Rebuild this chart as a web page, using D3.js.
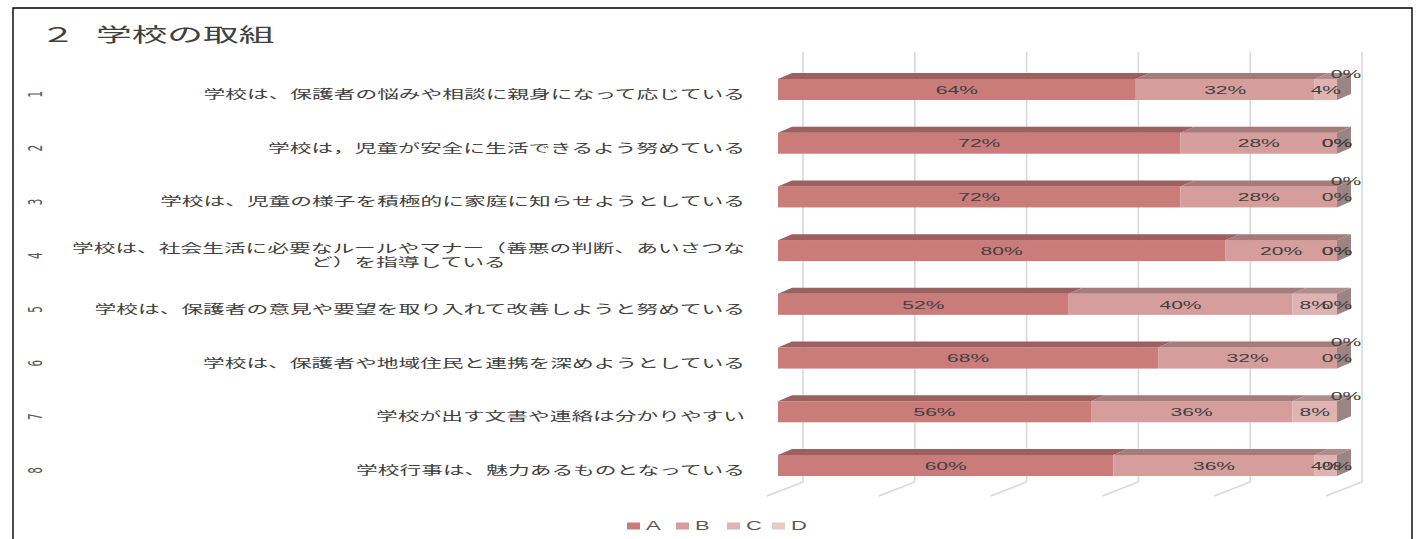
<!DOCTYPE html>
<html><head><meta charset="utf-8">
<script src="https://cdn.jsdelivr.net/npm/d3@7"></script>
<style>
html,body{margin:0;padding:0;background:#fff;}
svg{display:block;}
text{white-space:pre;}
</style></head>
<body>
<svg id="chart" width="1418" height="539"></svg>
<script>
// ---- data ----
const titleNum = "２";
const titleText = "学校の取組";
const categories = ["1","2","3","4","5","6","7","8"];
const questions = [
  ["学校は、保護者の悩みや相談に親身になって応じている"],
  ["学校は，児童が安全に生活できるよう努めている"],
  ["学校は、児童の様子を積極的に家庭に知らせようとしている"],
  ["学校は、社会生活に必要なルールやマナー（善悪の判断、あいさつな","ど）を指導している"],
  ["学校は、保護者の意見や要望を取り入れて改善しようと努めている"],
  ["学校は、保護者や地域住民と連携を深めようとしている"],
  ["学校が出す文書や連絡は分かりやすい"],
  ["学校行事は、魅力あるものとなっている"]
];
const seriesNames = ["A","B","C","D"];
const valuesA = [0.64,0.72,0.72,0.80,0.52,0.68,0.56,0.60];
const valuesB = [0.32,0.28,0.28,0.20,0.40,0.32,0.36,0.36];
const valuesC = [0.04,0.00,0.00,0.00,0.08,0.00,0.08,0.04];
const valuesD = [0.00,0.00,0.00,0.00,0.00,0.00,0.00,0.00];
const axisTicks = [0,0.2,0.4,0.6,0.8,1.0];
// label placement (Excel collision handling for the D labels)
const dLabelAbove = [true,false,true,false,false,true,true,false];

// ---- styles ----
const frontColors = ["#C97C7A","#D59D9B","#DEB3B2","#E7C9C8"];
const topColors   = ["#9C605E","#A67B79","#B08D8C","#B99E9D"];
const sideColor = "#9B8584";
const textColor = "#404040";
const SX = 1.83;   // horizontal text stretch of the original rendering
const SXL = 1.81;  // stretch for category labels

const svg = d3.select("#chart");
const x = d3.scaleLinear().domain([0,1]).range([778,1337]);
const y = d3.scalePoint().domain(categories).range([89.5,465.5]);
const barH = 21, bdx = 14, bdy = 6;
const wallDx = 25, floorFront = -11, gridTop = 52, gridBot = 482, floorBotY = 496;
const fmt = d3.format(".0%");

// border
svg.append("path").attr("d","M13,545 L13,8 L1412,8 L1412,545")
  .attr("fill","none").attr("stroke","#000").attr("stroke-width",1.4);

// title
const tt = svg.append("text").attr("transform","translate(40,42) scale("+SX+",1)")
  .attr("font-family","'Noto Sans CJK JP'").attr("font-size",19.5).attr("fill",textColor);
tt.append("tspan").attr("x",0).text(titleNum);
tt.append("tspan").attr("x",(96-40)/SX).text(titleText);

// gridlines (back wall + floor)
const grid = svg.append("g").attr("stroke","#D9D9D9").attr("stroke-width",1.6).attr("fill","none");
axisTicks.forEach(t=>{
  grid.append("path").attr("d",`M${x(t)+wallDx},${gridTop} L${x(t)+wallDx},${gridBot} L${x(t)+floorFront},${floorBotY}`);
});

// bars
const series = [valuesA,valuesB,valuesC,valuesD];
const stackData = categories.map((c,i)=>{
  let acc=0; return series.map((s,k)=>{const o={k,x0:acc,x1:acc+s[i],v:s[i]}; acc+=s[i]; return o;});
});
const bars = svg.append("g");
categories.forEach((c,i)=>{
  const yc = y(c), yt = yc-barH/2;
  const segs = stackData[i];
  segs.forEach(s=>{
    if (s.v<=0) return;
    const a=x(s.x0), b=x(s.x1);
    bars.append("rect").attr("x",a).attr("y",yt).attr("width",b-a).attr("height",barH)
      .attr("fill",frontColors[s.k]);
    bars.append("path").attr("d",`M${a},${yt} L${b},${yt} L${b+bdx},${yt-bdy} L${a+bdx},${yt-bdy}Z`)
      .attr("fill",topColors[s.k]);
  });
  const end = x(segs[segs.length-1].x1);
  bars.append("path").attr("d",`M${end},${yt} L${end+bdx},${yt-bdy} L${end+bdx},${yt-bdy+barH} L${end},${yt+barH}Z`)
    .attr("fill",sideColor);
});

// data labels
const lab = svg.append("g").attr("font-family","'Liberation Sans',Arial,sans-serif")
  .attr("font-size",11.5).attr("fill",textColor).attr("text-anchor","middle");
categories.forEach((c,i)=>{
  const yc = y(c);
  stackData[i].forEach(s=>{
    let lx = x((s.x0+s.x1)/2), ly = yc;
    if (s.k===3 && dLabelAbove[i]) { lx = x(s.x1)+9; ly = yc-16; }
    lab.append("text").attr("transform",`translate(${lx},${ly}) scale(${SX},1)`)
      .attr("dy","0.36em").text(fmt(s.v));
  });
});

// category labels
const cl = svg.append("g").attr("font-family","'Noto Sans CJK JP'").attr("font-size",12)
  .attr("fill",textColor);
categories.forEach((c,i)=>{
  const lines = questions[i];
  const lh = 14;
  const yc = y(c)+5;
  const g = cl.append("text").attr("transform",`translate(745,${yc}) scale(${SXL},1)`)
    .attr("text-anchor", lines.length>1 ? "middle":"end");
  if (lines.length===1) {
    g.append("tspan").attr("x",0).attr("dy","0.38em").text(lines[0]);
  } else {
    const tmp = svg.append("text").attr("font-family","'Noto Sans CJK JP'").attr("font-size",12).text(lines[0]);
    const w = tmp.node().getComputedTextLength(); tmp.remove();
    lines.forEach((ln,j)=>{
      g.append("tspan").attr("x",-w/2).attr("y",(j-(lines.length-1)/2)*lh).attr("dy","0.38em").text(ln);
    });
  }
  // rotated index number
  svg.append("text").attr("transform",`translate(35,${yc}) scale(${SX},1) rotate(-90)`)
    .attr("font-family","'DejaVu Sans Mono'").attr("font-size",11).attr("fill","#595959")
    .attr("text-anchor","middle").attr("dy","0.35em").text(c);
});

// legend
const legX = [627,676,727,772];
const leg = svg.append("g");
seriesNames.forEach((n,k)=>{
  leg.append("rect").attr("x",legX[k]).attr("y",522.5).attr("width",13).attr("height",7).attr("fill",frontColors[k]);
  leg.append("text").attr("transform",`translate(${legX[k]+19},526) scale(${SX},1)`)
    .attr("font-family","'Liberation Sans',Arial,sans-serif").attr("font-size",12)
    .attr("fill","#595959").attr("dy","0.36em").text(n);
});
</script>
</body></html>
